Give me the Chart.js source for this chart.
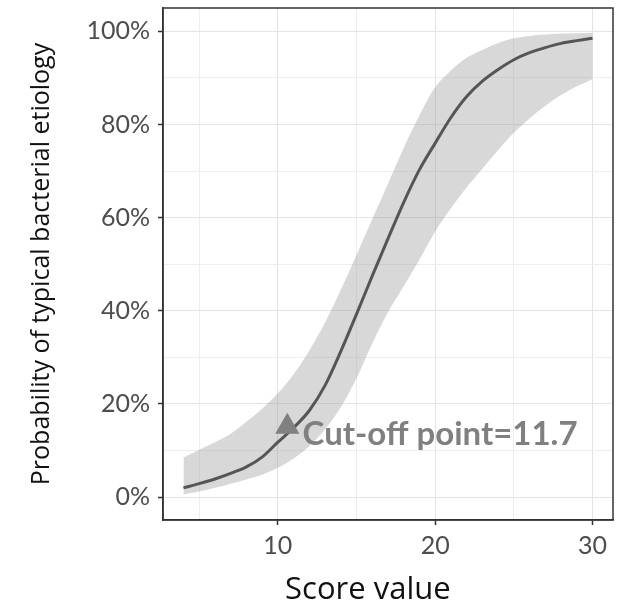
<!DOCTYPE html>
<html>
<head>
<meta charset="utf-8">
<script src="https://cdn.jsdelivr.net/npm/chart.js@4.4.1/dist/chart.umd.min.js"></script>
<style>
  html, body { margin: 0; padding: 0; background: #ffffff; }
  #wrap { width: 628px; height: 602px; }
</style>
</head>
<body>
<div id="wrap"><canvas id="chart" width="628" height="602"></canvas></div>
<script>
// Score values (x) and predicted probability with 95% confidence band (%)
const scores = [4, 5, 6, 7, 8, 9, 10, 11, 12, 13, 14, 15, 16, 17, 18, 19, 20, 21, 22, 23, 24, 25, 26, 27, 28, 29, 30];
const fitted = [2.0, 2.9, 3.9, 5.1, 6.5, 8.6, 11.8, 14.9, 18.6, 24.0, 31.3, 39.3, 47.5, 55.5, 63.3, 70.3, 76.0, 81.5, 86.0, 89.3, 91.8, 93.9, 95.4, 96.5, 97.4, 98.0, 98.5];
const lowerCI = [0.6, 1.2, 2.0, 2.9, 3.8, 4.8, 6.3, 8.3, 11.0, 14.6, 19.3, 25.5, 33.0, 39.7, 45.3, 51.0, 57.0, 62.0, 66.5, 70.5, 74.5, 78.2, 81.3, 84.0, 86.3, 88.2, 89.7];
const upperCI = [8.5, 10.2, 11.8, 13.6, 16.2, 19.0, 22.3, 26.4, 31.5, 37.5, 44.5, 52.0, 59.7, 67.3, 75.0, 82.0, 88.0, 91.6, 94.3, 96.0, 97.5, 98.5, 99.0, 99.3, 99.5, 99.6, 99.7];

// Cut-off marker and its label
const cutoffMarker = { x: 10.6, y: 15.1 };
const cutoffLabel = 'Cut-off point=11.7';
const cutoffLabelPos = { x: 11.57, y: 11.3 };

// Axis ticks
const xTicks = [5, 10, 15, 20, 25, 30];
const xLabeled = [10, 20, 30];
const yTicks = [0, 10, 20, 30, 40, 50, 60, 70, 80, 90, 100];
const yLabeled = [0, 20, 40, 60, 80, 100];

const toPts = (ys) => scores.map((x, i) => ({ x: x, y: ys[i] }));

const panelBorder = {
  id: 'panelBorder',
  afterDatasetsDraw(chart) {
    const { ctx, chartArea: a } = chart;
    ctx.save();
    ctx.strokeStyle = '#333333';
    ctx.lineWidth = 1.5;
    ctx.strokeRect(a.left, a.top, a.right - a.left, a.bottom - a.top);
    ctx.restore();
  }
};

const cutoffText = {
  id: 'cutoffText',
  afterDatasetsDraw(chart) {
    const { ctx, scales } = chart;
    ctx.save();
    ctx.font = 'bold 33px Lato';
    ctx.fillStyle = '#808080';
    ctx.textAlign = 'left';
    ctx.textBaseline = 'alphabetic';
    ctx.fillText(cutoffLabel, scales.x.getPixelForValue(cutoffLabelPos.x), scales.y.getPixelForValue(cutoffLabelPos.y));
    ctx.restore();
  }
};

const noEdgePadding = (s) => {
  s.paddingTop = 0; s.paddingBottom = 0; s.paddingLeft = 0; s.paddingRight = 0;
};

new Chart(document.getElementById('chart'), {
  type: 'line',
  data: {
    datasets: [
      {
        label: 'lower',
        data: toPts(lowerCI),
        borderWidth: 0,
        pointRadius: 0,
        fill: false,
        cubicInterpolationMode: 'monotone',
        order: 3
      },
      {
        label: 'upper',
        data: toPts(upperCI),
        borderWidth: 0,
        pointRadius: 0,
        backgroundColor: 'rgba(153,153,153,0.38)',
        fill: '-1',
        cubicInterpolationMode: 'monotone',
        order: 2
      },
      {
        label: 'fitted',
        data: toPts(fitted),
        borderColor: '#555555',
        borderWidth: 3,
        pointRadius: 0,
        fill: false,
        cubicInterpolationMode: 'monotone',
        order: 1
      },
      {
        label: 'cutoff',
        type: 'scatter',
        data: [cutoffMarker],
        pointStyle: 'triangle',
        pointRadius: 14,
        backgroundColor: '#808080',
        borderColor: '#808080',
        borderWidth: 0,
        order: 0
      }
    ]
  },
  options: {
    responsive: false,
    animation: false,
    layout: { autoPadding: false, padding: { left: 0, right: 15, top: 8, bottom: 0 } },
    plugins: { legend: { display: false }, tooltip: { enabled: false } },
    scales: {
      x: {
        type: 'linear',
        min: 2.7,
        max: 31.3,
        afterBuildTicks: (s) => { s.ticks = xTicks.map(v => ({ value: v })); },
        afterFit: (s) => { s.height = 82; noEdgePadding(s); },
        ticks: {
          autoSkip: false,
          maxRotation: 0,
          padding: 6,
          color: '#4d4d4d',
          font: { family: 'Lato', size: 25 },
          callback: (v) => xLabeled.includes(v) ? String(v) : ''
        },
        grid: {
          color: (c) => xLabeled.includes(c.tick && c.tick.value) ? '#e4e4e4' : '#eeeeee',
          lineWidth: 1,
          tickLength: 5,
          tickColor: (c) => xLabeled.includes(c.tick && c.tick.value) ? '#333333' : 'rgba(0,0,0,0)',
          tickWidth: 1.5
        },
        border: { display: true, color: '#333333', width: 1.5 },
        title: {
          display: true,
          // trailing spaces nudge the centred title slightly left
          text: 'Score value     ',
          color: '#111111',
          font: { family: 'Open Sans', size: 31, lineHeight: 1.0 },
          padding: { top: 0, bottom: -4 }
        }
      },
      y: {
        type: 'linear',
        min: -4.9,
        max: 105,
        afterBuildTicks: (s) => { s.ticks = yTicks.map(v => ({ value: v })); },
        afterFit: (s) => { s.width = 163; noEdgePadding(s); },
        ticks: {
          autoSkip: false,
          padding: 8,
          color: '#4d4d4d',
          font: { family: 'Lato', size: 25 },
          callback: (v) => yLabeled.includes(v) ? v + '%' : ''
        },
        grid: {
          color: (c) => yLabeled.includes(c.tick && c.tick.value) ? '#e4e4e4' : '#eeeeee',
          lineWidth: 1,
          tickLength: 5,
          tickColor: (c) => yLabeled.includes(c.tick && c.tick.value) ? '#333333' : 'rgba(0,0,0,0)',
          tickWidth: 1.5
        },
        border: { display: true, color: '#333333', width: 1.5 },
        title: {
          display: true,
          text: 'Probability of typical bacterial etiology',
          color: '#111111',
          font: { family: 'Open Sans', size: 25, lineHeight: 1.0 },
          padding: { top: 29, bottom: 0 }
        }
      }
    }
  },
  plugins: [panelBorder, cutoffText]
});
</script>
</body>
</html>
